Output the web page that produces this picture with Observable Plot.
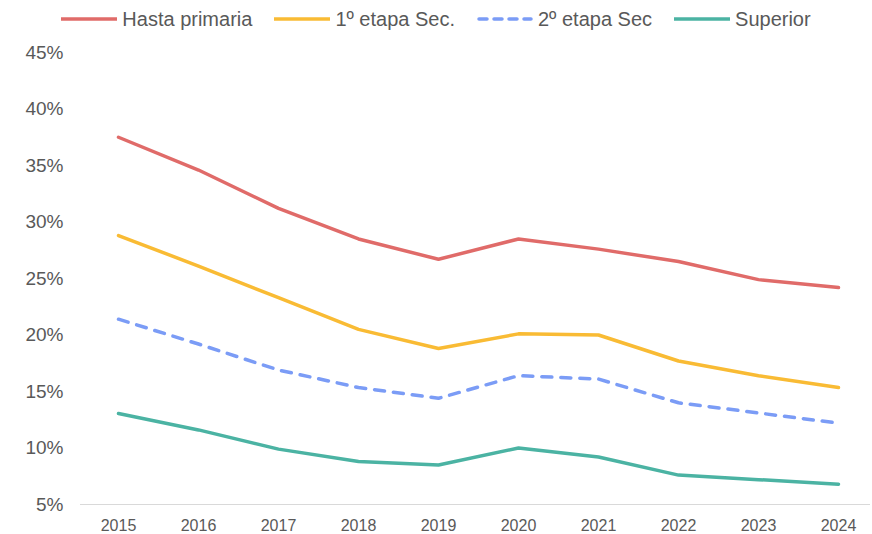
<!DOCTYPE html>
<html><head><meta charset="utf-8">
<script src="https://cdn.jsdelivr.net/npm/d3@7"></script>
<script src="https://cdn.jsdelivr.net/npm/@observablehq/plot@0.6"></script>
<style>
html,body{margin:0;padding:0;background:#fff;}
body{font-family:"Liberation Sans",Arial,sans-serif;width:872px;}
#legend{display:flex;justify-content:center;align-items:center;height:36px;gap:22px;color:#595959;font-size:20px;padding-top:2px;box-sizing:border-box;}
.item{display:flex;align-items:center;gap:5px;}
.item svg{display:block;}
</style></head><body>
<div id="legend"></div>
<div id="chart"></div>
<script>
const years = [2015, 2016, 2017, 2018, 2019, 2020, 2021, 2022, 2023, 2024];
const hastaPrimaria = [37.5, 34.6, 31.2, 28.5, 26.7, 28.5, 27.6, 26.5, 24.9, 24.2];
const primeraEtapaSec = [28.8, 26.1, 23.3, 20.5, 18.8, 20.1, 20.0, 17.7, 16.4, 15.35];
const segundaEtapaSec = [21.4, 19.2, 16.9, 15.35, 14.4, 16.4, 16.1, 14.0, 13.1, 12.2];
const superior = [13.05, 11.6, 9.9, 8.8, 8.5, 10.0, 9.2, 7.6, 7.2, 6.8];
const seriesNames = ["Hasta primaria", "1º etapa Sec.", "2º etapa Sec", "Superior"];
const seriesValues = [hastaPrimaria, primeraEtapaSec, segundaEtapaSec, superior];
const seriesColors = ["#E06B69", "#F9BB34", "#7B9CF6", "#4BB3A3"];
const seriesDash = [null, null, "10,9", null];
const yTicks = [5, 10, 15, 20, 25, 30, 35, 40, 45];

// legend
const legend = document.getElementById("legend");
seriesNames.forEach((name, i) => {
  const item = document.createElement("div");
  item.className = "item";
  const dash = seriesDash[i] ? `stroke-dasharray="8,7"` : "";
  item.innerHTML = `<svg width="56" height="10"><line x1="${seriesDash[i] ? 2 : 0}" y1="5" x2="${seriesDash[i] ? 54 : 56}" y2="5" stroke="${seriesColors[i]}" stroke-width="3.5" stroke-linecap="round" ${dash}/></svg><span>${name}</span>`;
  legend.appendChild(item);
});

const data = [];
seriesNames.forEach((name, i) => {
  years.forEach((y, j) => data.push({series: name, year: y, value: seriesValues[i][j]}));
});

const lineMarks = seriesNames.map((name, i) => Plot.line(data.filter(d => d.series === name), {
  x: "year", y: "value",
  stroke: seriesColors[i],
  strokeWidth: 3.5,
  strokeDasharray: seriesDash[i] || undefined,
  strokeLinecap: "round",
  strokeLinejoin: "round"
}));

const chart = Plot.plot({
  width: 872,
  height: 498,
  marginTop: 16,
  marginBottom: 30,
  marginLeft: 80,
  marginRight: 2,
  style: {fontFamily: '"Liberation Sans", Arial, sans-serif', color: "#595959", background: "#fff"},
  x: {type: "point", domain: years, range: [117.5, 837.5], padding: 0},
  y: {domain: [5, 45]},
  marks: [
    Plot.ruleY([5], {stroke: "#D9D9D9", strokeWidth: 1.2}),
    Plot.axisY({ticks: yTicks, tickSize: 0, tickPadding: 17, fontSize: 19, tickFormat: d => d + "%", label: null}),
    Plot.axisX({tickSize: 0, tickPadding: 15, fontSize: 16, tickFormat: d => String(d), label: null}),
    ...lineMarks
  ]
});
document.getElementById("chart").appendChild(chart);
</script>
</body></html>
